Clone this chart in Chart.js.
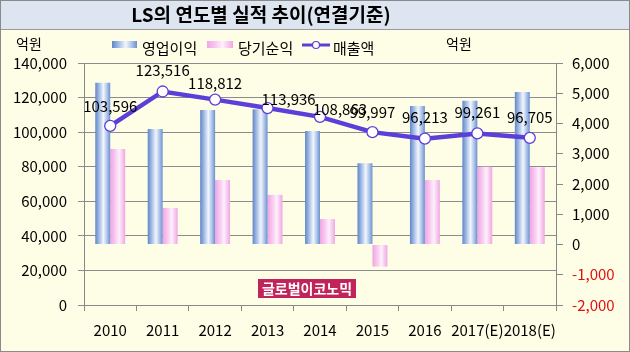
<!DOCTYPE html>
<html>
<head>
<meta charset="utf-8">
<script src="https://cdn.jsdelivr.net/npm/chart.js@4.4.1/dist/chart.umd.min.js"></script>
<style>
  html, body { margin: 0; padding: 0; background: #fefee6; }
  #wrap { width: 630px; height: 352px; position: relative; }
</style>
</head>
<body>
<div id="wrap"><canvas id="chartCanvas"></canvas></div>
<script>
// values (억원)
const years = ["2010", "2011", "2012", "2013", "2014", "2015", "2016", "2017(E)", "2018(E)"];
const sales = [103596, 123516, 118812, 113936, 108863, 99997, 96213, 99261, 96705];
const opProfit = [5350, 3820, 4450, 4470, 3750, 2690, 4580, 4750, 5040];
const netProfit = [3160, 1210, 2130, 1640, 840, -730, 2130, 2570, 2550];
const leftTicks = [0, 140000, 20000];   // min, max, step
const rightTicks = [-2000, 6000, 1000];

// label nudges for the sales labels (px), a couple were moved by hand in the original
const labelDx = [0, 0, 0, 21, 20, 0, 0, 0, 0];
const labelDy = [20, 21, 16, 9, 8, 20, 21, 21, 21];

const FONT = "'Noto Sans CJK KR', 'Noto Sans', sans-serif";
const LINE = "#5b3fd9";
const CAT_PCT = 0.57;

function barGradient(c, stops) {
  const chart = c.chart;
  const xs = chart.scales.x;
  if (!xs || xs.width == null) return stops[0][1];
  const cw = xs.width / years.length;
  const bw = cw * CAT_PCT / 2;
  const cx = xs.getPixelForValue(c.dataIndex) + (c.datasetIndex === 0 ? -bw / 2 : bw / 2);
  const g = chart.ctx.createLinearGradient(cx - bw / 2, 0, cx + bw / 2, 0);
  stops.forEach(s => g.addColorStop(s[0], s[1]));
  return g;
}
const blueStops = [[0, "#5f86c8"], [0.25, "#9fb9e4"], [0.55, "#f2f6fd"], [0.8, "#a9c1e8"], [1, "#6a90d0"]];
const pinkStops = [[0, "#f2a4e4"], [0.3, "#f7c6ef"], [0.6, "#fdf0fb"], [0.85, "#f6c2ed"], [1, "#efa6e2"]];

const frame = {
  id: "frame",
  beforeDraw(chart) {
    const ctx = chart.ctx;
    ctx.save();
    ctx.fillStyle = "#fefee6";
    ctx.fillRect(0, 0, 630, 352);
    ctx.fillStyle = "#dde5f0";
    ctx.fillRect(0, 0, 630, 29);
    ctx.strokeStyle = "#9a9a9a";
    ctx.lineWidth = 1;
    ctx.beginPath();
    ctx.moveTo(0, 29.5); ctx.lineTo(630, 29.5);
    ctx.stroke();
    ctx.strokeStyle = "#8a8a8a";
    ctx.strokeRect(0.5, 0.5, 629, 351);

    ctx.fillStyle = "#000";
    ctx.font = "bold 19px " + FONT;
    ctx.textAlign = "center";
    ctx.textBaseline = "middle";
    ctx.fillText("LS의 연도별 실적 추이(연결기준)", 261, 15);

    // unit labels
    ctx.font = "14px " + FONT;
    ctx.fillText("억원", 29, 44);
    ctx.fillText("억원", 459, 44);

    // legend
    ctx.textAlign = "left";
    ctx.font = "15px " + FONT;
    let g = ctx.createLinearGradient(112, 0, 137, 0);
    blueStops.forEach(s => g.addColorStop(s[0], s[1]));
    ctx.fillStyle = g;
    ctx.fillRect(112, 41, 25, 7);
    ctx.fillStyle = "#000";
    ctx.fillText("영업이익", 142, 48);
    g = ctx.createLinearGradient(207, 0, 233, 0);
    pinkStops.forEach(s => g.addColorStop(s[0], s[1]));
    ctx.fillStyle = g;
    ctx.fillRect(207, 41, 26, 7);
    ctx.fillStyle = "#000";
    ctx.fillText("당기순익", 238, 48);
    ctx.strokeStyle = LINE;
    ctx.lineWidth = 3;
    ctx.beginPath();
    ctx.moveTo(302, 45); ctx.lineTo(330, 45);
    ctx.stroke();
    ctx.fillStyle = "#fff";
    ctx.lineWidth = 1.2;
    ctx.beginPath();
    ctx.arc(316, 45, 3.5, 0, Math.PI * 2);
    ctx.fill(); ctx.stroke();
    ctx.fillStyle = "#000";
    ctx.fillText("매출액", 333, 48);
    ctx.restore();
  },
  afterDraw(chart) {
    const ctx = chart.ctx;
    ctx.save();
    ctx.fillStyle = "#c1245a";
    ctx.fillRect(258, 279, 98, 19);
    ctx.fillStyle = "#fff";
    ctx.font = "bold 14px " + FONT;
    ctx.textAlign = "center";
    ctx.textBaseline = "middle";
    ctx.fillText("글로벌이코노믹", 307, 289);
    ctx.restore();
  }
};

const salesLabels = {
  id: "salesLabels",
  afterDatasetsDraw(chart) {
    const meta = chart.getDatasetMeta(2);
    const ctx = chart.ctx;
    ctx.save();
    ctx.font = "15px " + FONT;
    ctx.fillStyle = "#000";
    ctx.textAlign = "center";
    ctx.textBaseline = "middle";
    meta.data.forEach((pt, i) => {
      ctx.fillText(sales[i].toLocaleString("en-US"), pt.x + labelDx[i], pt.y - labelDy[i]);
    });
    ctx.restore();
  }
};

const ctx = document.getElementById("chartCanvas").getContext("2d");
window.currentChart = new Chart(ctx, {
  data: {
    labels: years,
    datasets: [
      {
        type: "bar",
        label: "영업이익",
        data: opProfit,
        yAxisID: "y1",
        backgroundColor: c => barGradient(c, blueStops),
        borderWidth: 0,
        categoryPercentage: CAT_PCT,
        barPercentage: 1,
        order: 2
      },
      {
        type: "bar",
        label: "당기순익",
        data: netProfit,
        yAxisID: "y1",
        backgroundColor: c => barGradient(c, pinkStops),
        borderWidth: 0,
        categoryPercentage: CAT_PCT,
        barPercentage: 1,
        order: 2
      },
      {
        type: "line",
        label: "매출액",
        data: sales,
        yAxisID: "y",
        borderColor: LINE,
        borderWidth: 4.5,
        pointRadius: 5.5,
        pointBackgroundColor: "#fff",
        pointBorderColor: LINE,
        pointBorderWidth: 1.3,
        tension: 0,
        order: 1
      }
    ]
  },
  options: {
    responsive: true,
    maintainAspectRatio: false,
    animation: false,
    layout: { padding: { top: 63, left: 0, right: 0, bottom: 0 } },
    plugins: {
      legend: { display: false },
      title: { display: false },
      tooltip: { enabled: false }
    },
    scales: {
      x: {
        offset: true,
        grid: { offset: true, drawOnChartArea: false, tickLength: 6, color: "#888" },
        border: { color: "#888" },
        ticks: { color: "#000", font: { family: FONT, size: 15 }, padding: 10, maxRotation: 0, autoSkip: false },
        afterFit: s => { s.height = 47; }
      },
      y: {
        position: "left",
        min: leftTicks[0],
        max: leftTicks[1],
        ticks: { stepSize: leftTicks[2], color: "#000", font: { family: FONT, size: 15 }, padding: 11 },
        grid: { color: "#8c8c8c", tickLength: 6 },
        border: { color: "#888" },
        afterFit: s => { s.width = 84; }
      },
      y1: {
        position: "right",
        min: rightTicks[0],
        max: rightTicks[1],
        ticks: {
          stepSize: rightTicks[2],
          color: c => (c.tick && c.tick.value < 0 ? "#e01010" : "#000"),
          font: { family: FONT, size: 15 },
          padding: 9
        },
        grid: { drawOnChartArea: false, color: "#888", tickLength: 7 },
        border: { color: "#888" },
        afterFit: s => { s.width = 74; }
      }
    }
  },
  plugins: [frame, salesLabels]
});
</script>
</body>
</html>
